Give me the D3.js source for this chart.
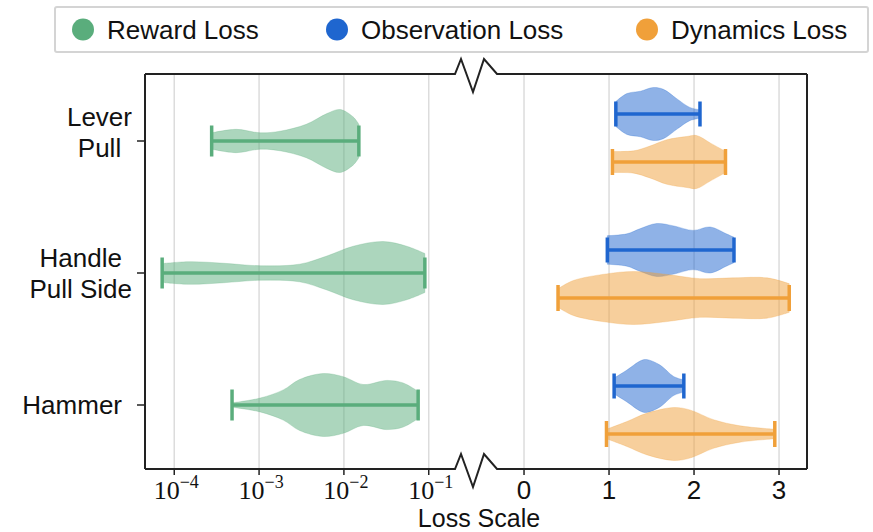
<!DOCTYPE html>
<html>
<head>
<meta charset="utf-8">
<script src="https://cdn.jsdelivr.net/npm/d3@7"></script>
<style>
  body { margin: 0; background: #fff; }
</style>
</head>
<body>
<div id="chart"></div>
<script>
// Broken-axis violin chart: log panel (reward) + linear panel (observation / dynamics)
const width = 873;
const height = 532;

// ---- data ----
const tasks = [['Lever', 'Pull'], ['Handle', 'Pull Side'], ['Hammer']];
const seriesNames = ['Reward Loss', 'Observation Loss', 'Dynamics Loss'];
const seriesColors = ['#5aad7c', '#1f66cf', '#f0a03a'];

const logTicks = [1e-4, 1e-3, 1e-2, 1e-1];
const logTickExp = ['\u22124', '\u22123', '\u22122', '\u22121'];
const linTicks = [0, 1, 2, 3];

// reward loss: sample values along the violin and relative density at each
const rewardVals = [
    [2.76e-4, 5.4e-4, 1.03e-3, 1.76e-3, 3.6e-3, 6.3e-3, 9.0e-3, 1.29e-2, 1.5e-2],
    [7.2e-5, 1.53e-4, 3.8e-4, 1.03e-3, 3.0e-3, 6.3e-3, 1.29e-2, 2.9e-2, 5.5e-2, 9.0e-2],
    [4.8e-4, 1.03e-3, 1.93e-3, 3.0e-3, 5.7e-3, 9.8e-3, 1.69e-2, 3.2e-2, 5.0e-2, 7.5e-2]
];
const rewardDens = [
    [0.26, 0.37, 0.26, 0.31, 0.53, 0.87, 1.0, 0.76, 0.53],
    [0.30, 0.36, 0.31, 0.23, 0.28, 0.54, 0.85, 1.0, 0.85, 0.62],
    [0.07, 0.22, 0.48, 0.81, 1.0, 0.90, 0.65, 0.78, 0.70, 0.43]
];
const obsVals = [
    [1.08, 1.21, 1.37, 1.52, 1.64, 1.80, 1.95, 2.07],
    [0.98, 1.21, 1.37, 1.56, 1.76, 1.99, 2.19, 2.38, 2.47],
    [1.06, 1.21, 1.37, 1.44, 1.60, 1.76, 1.88]
];
const obsDens = [
    [0.47, 0.77, 0.86, 1.0, 0.93, 0.57, 0.25, 0.16],
    [0.54, 0.61, 0.81, 1.0, 0.91, 0.74, 0.87, 0.61, 0.48],
    [0.30, 0.60, 0.95, 1.0, 0.79, 0.36, 0.23]
];
const dynVals = [
    [1.04, 1.29, 1.48, 1.68, 1.91, 2.03, 2.19, 2.37],
    [0.40, 0.58, 0.97, 1.29, 1.68, 2.07, 2.46, 2.86, 3.12],
    [0.97, 1.21, 1.44, 1.76, 1.95, 2.23, 2.54, 2.95]
];
const dynDens = [
    [0.40, 0.42, 0.60, 0.84, 0.96, 1.0, 0.72, 0.40],
    [0.35, 0.66, 0.91, 1.0, 0.89, 0.73, 0.76, 0.76, 0.54],
    [0.18, 0.47, 0.78, 1.0, 0.91, 0.54, 0.31, 0.18]
];

// ---- layout ----
const plotLeft = 145, plotRight = 807, plotTop = 74, plotBottom = 469;
const breakLeft = 455, breakRight = 497;
const frameColor = '#222';

const svg = d3.select('#chart')
    .append('svg')
    .attr('width', width)
    .attr('height', height);

// scales
const xLog = d3.scaleLog().domain([4.52e-5, 0.204]).range([plotLeft, breakLeft]);
const xLin = d3.scaleLinear().domain([-0.318, 3.329]).range([breakRight, plotRight]);
const yTask = d3.scalePoint().domain(d3.range(tasks.length)).range([141, 405]);
const yPair = d3.scalePoint().domain(d3.range(tasks.length)).range([138, 410]);
const pairOffset = 24;

// gridlines
svg.append('g').selectAll('line')
    .data(logTicks.map(t => xLog(t)).concat(linTicks.map(t => xLin(t))))
    .join('line')
    .attr('x1', d => d).attr('x2', d => d)
    .attr('y1', plotTop).attr('y2', plotBottom)
    .attr('stroke', '#dcdcdc')
    .attr('stroke-width', 1.5);

// violins
function drawViolin(xs, vals, dens, cy, color, maxHalf, capHalf) {
    const pts = vals.map((v, i) => ({ v: v, d: dens[i] }));
    const area = d3.area()
        .curve(d3.curveCatmullRom.alpha(0.5))
        .x(d => xs(d.v))
        .y0(d => cy - d.d * maxHalf)
        .y1(d => cy + d.d * maxHalf);
    svg.append('path')
        .attr('d', area(pts))
        .attr('fill', color)
        .attr('fill-opacity', 0.5)
        .attr('stroke', color)
        .attr('stroke-opacity', 0.25)
        .attr('stroke-width', 1);
    const lo = xs(vals[0]);
    const hi = xs(vals[vals.length - 1]);
    svg.append('line')
        .attr('x1', lo).attr('x2', hi)
        .attr('y1', cy).attr('y2', cy)
        .attr('stroke', color)
        .attr('stroke-width', 3.5);
    [lo, hi].forEach(x => {
        svg.append('line')
            .attr('x1', x).attr('x2', x)
            .attr('y1', cy - capHalf).attr('y2', cy + capHalf)
            .attr('stroke', color)
            .attr('stroke-width', 3.5);
    });
}

tasks.forEach((t, i) => {
    drawViolin(xLog, rewardVals[i], rewardDens[i], yTask(i), seriesColors[0], 31.5, 15.5);
    drawViolin(xLin, obsVals[i], obsDens[i], yPair(i) - pairOffset, seriesColors[1], 26.5, 12.5);
    drawViolin(xLin, dynVals[i], dynDens[i], yPair(i) + pairOffset, seriesColors[2], 26.5, 13);
});

// frame with broken top / bottom
const zig = y => [[breakLeft, y], [breakLeft + 6, y - 15], [breakLeft + 18, y + 18],
                  [breakLeft + 29, y - 15], [breakRight, y]];
const line = d3.line();
[plotTop, plotBottom].forEach(y => {
    svg.append('path')
        .attr('d', line([[plotLeft, y], [breakLeft, y]].concat(zig(y)).concat([[plotRight, y]])))
        .attr('fill', 'none')
        .attr('stroke', frameColor)
        .attr('stroke-width', 2)
        .attr('stroke-linejoin', 'miter');
});
[plotLeft, plotRight].forEach(x => {
    svg.append('line')
        .attr('x1', x).attr('x2', x)
        .attr('y1', plotTop).attr('y2', plotBottom)
        .attr('stroke', frameColor)
        .attr('stroke-width', 2);
});

// x ticks
const tickXs = logTicks.map(t => xLog(t)).concat(linTicks.map(t => xLin(t)));
svg.append('g').selectAll('line')
    .data(tickXs)
    .join('line')
    .attr('x1', d => d).attr('x2', d => d)
    .attr('y1', plotBottom).attr('y2', plotBottom + 6)
    .attr('stroke', frameColor)
    .attr('stroke-width', 1.5);

// log tick labels: 10^-n
logTicks.forEach((t, i) => {
    const txt = svg.append('text')
        .attr('x', xLog(t) + 2)
        .attr('y', 499)
        .attr('text-anchor', 'middle')
        .attr('font-family', '"Liberation Serif", "DejaVu Serif", serif')
        .attr('font-size', '26px')
        .attr('fill', '#111');
    txt.append('tspan').text('10');
    txt.append('tspan')
        .attr('dy', -11)
        .attr('font-size', '18px')
        .text(logTickExp[i]);
});

// linear tick labels
svg.append('g').selectAll('text')
    .data(linTicks)
    .join('text')
    .attr('x', d => xLin(d))
    .attr('y', 499)
    .attr('text-anchor', 'middle')
    .attr('font-family', '"Liberation Sans", Arial, sans-serif')
    .attr('font-size', '26px')
    .attr('fill', '#111')
    .text(d => d);

// axis title
svg.append('text')
    .attr('x', (plotLeft + plotRight) / 2 + 3)
    .attr('y', 527)
    .attr('text-anchor', 'middle')
    .attr('font-family', '"Liberation Sans", Arial, sans-serif')
    .attr('font-size', '25px')
    .attr('fill', '#111')
    .text('Loss Scale');

// y ticks and labels
const labelShift = [-9, 0, 0];
const lineH = 30.5;
tasks.forEach((lines, i) => {
    const ty = yTask(i);
    svg.append('line')
        .attr('x1', plotLeft - 8).attr('x2', plotLeft)
        .attr('y1', ty).attr('y2', ty)
        .attr('stroke', frameColor)
        .attr('stroke-width', 1.5);
    // block is right-aligned, lines are centred inside the block
    const tmp = svg.append('text')
        .attr('font-family', '"Liberation Sans", Arial, sans-serif')
        .attr('font-size', '26px');
    const widths = lines.map(l => { tmp.text(l); return tmp.node().getComputedTextLength(); });
    tmp.remove();
    const blockW = d3.max(widths);
    const rightX = lines.length > 1 ? plotLeft - 13 : plotLeft - 23;
    const cx = rightX - blockW / 2;
    const firstBase = ty - (lines.length - 1) * lineH / 2 + 9.3 + labelShift[i];
    lines.forEach((l, j) => {
        svg.append('text')
            .attr('x', cx)
            .attr('y', firstBase + j * lineH)
            .attr('text-anchor', 'middle')
            .attr('font-family', '"Liberation Sans", Arial, sans-serif')
            .attr('font-size', '26px')
            .attr('fill', '#111')
            .text(l);
    });
});

// legend
svg.append('rect')
    .attr('x', 55).attr('y', 7)
    .attr('width', 813).attr('height', 45)
    .attr('rx', 2)
    .attr('fill', '#fff')
    .attr('stroke', '#d4d4d4')
    .attr('stroke-width', 2);

const legendStarts = [107, 361, 671];
seriesNames.forEach((name, i) => {
    svg.append('circle')
        .attr('cx', legendStarts[i] - 24)
        .attr('cy', 29.5)
        .attr('r', 11)
        .attr('fill', seriesColors[i]);
    svg.append('text')
        .attr('x', legendStarts[i])
        .attr('y', 39)
        .attr('font-family', '"Liberation Sans", Arial, sans-serif')
        .attr('font-size', '26px')
        .attr('fill', '#111')
        .text(name);
});
</script>
</body>
</html>
